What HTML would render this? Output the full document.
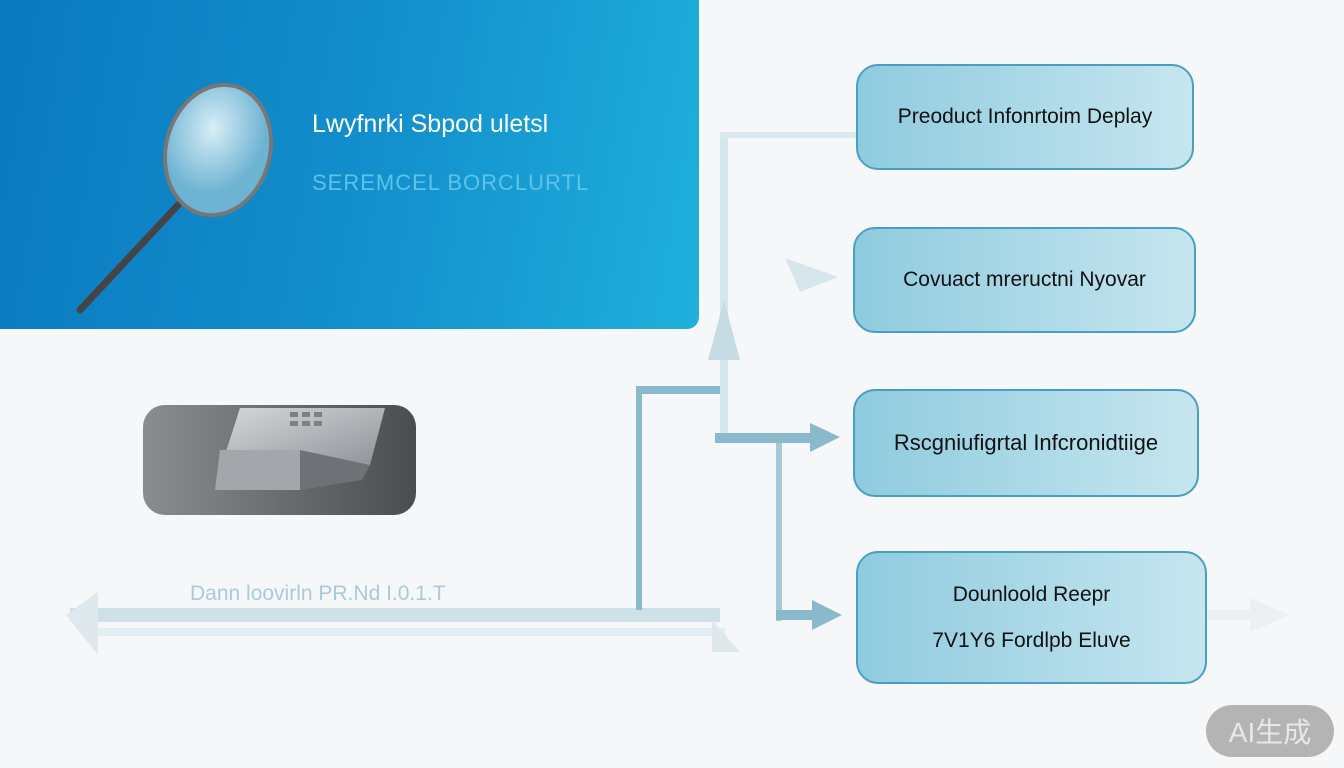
<!DOCTYPE html>
<html><head><meta charset="utf-8"><style>
html,body{margin:0;padding:0}
body{width:1344px;height:768px;position:relative;overflow:hidden;background:#f6f7f8;font-family:"Liberation Sans","Noto Sans CJK SC",sans-serif}
.hero{position:absolute;left:0;top:0;width:699px;height:329px;border-radius:0 0 12px 0;background:linear-gradient(100deg,#0a79bf 0%,#1390cd 55%,#1fb0dc 100%)}
.box{position:absolute;border:2px solid #4a9fbf;border-radius:22px;background:linear-gradient(90deg,#8fcbdf,#c6e6ef);color:#111;font-size:21px;display:flex;align-items:center;justify-content:center;text-align:center;line-height:46px}
</style></head><body>
<div class="hero"></div>
<svg style="position:absolute;left:0;top:0" width="1344" height="768">
<defs><radialGradient id="lens" cx="40%" cy="35%"><stop offset="0" stop-color="#d8eef6"/><stop offset="1" stop-color="#6fb3d3"/></radialGradient>
<linearGradient id="dev" x1="0" x2="1"><stop offset="0" stop-color="#8a8d90"/><stop offset="1" stop-color="#4a4d50"/></linearGradient>
<linearGradient id="met" x1="0" x2="1" y1="0" y2="1"><stop offset="0" stop-color="#d5d8db"/><stop offset="1" stop-color="#8c9095"/></linearGradient></defs>
<line x1="80" y1="310" x2="178" y2="205" stroke="#444" stroke-width="7" stroke-linecap="round"/>
<ellipse cx="218" cy="150" rx="52" ry="66" fill="url(#lens)" stroke="#777" stroke-width="4" transform="rotate(15 218 150)"/>
<rect x="143" y="405" width="273" height="110" rx="22" fill="url(#dev)"/>
<polygon points="240,408 385,408 370,465 220,470" fill="url(#met)"/>
<polygon points="220,450 300,450 300,490 215,490" fill="#a3a7ab"/>
<polygon points="300,450 370,465 362,480 300,490" fill="#6e7276"/>
<g fill="#7d8186"><rect x="290" y="412" width="8" height="5"/><rect x="302" y="412" width="8" height="5"/><rect x="314" y="412" width="8" height="5"/><rect x="290" y="421" width="8" height="5"/><rect x="302" y="421" width="8" height="5"/><rect x="314" y="421" width="8" height="5"/></g>
<rect x="70" y="608" width="650" height="14" fill="#cfe1e8"/>
<rect x="85" y="628" width="640" height="8" fill="#e3edf1"/>
<polygon points="66,615 98,592 98,655" fill="#dfe9ed"/>
<polygon points="740,652 712,620 712,652" fill="#dfe9ed"/>
<rect x="636" y="386" width="6" height="224" fill="#8bb9cc"/>
<rect x="636" y="386" width="92" height="8" fill="#8bb9cc"/>
<rect x="720" y="132" width="8" height="305" fill="#d5e6ec"/>
<rect x="720" y="132" width="138" height="6" fill="#dbe8ed"/>
<polygon points="708,360 724,300 740,360" fill="#c5dce5"/>
<polygon points="785,258 838,277 800,292" fill="#d5e6ec"/>
<rect x="715" y="433" width="98" height="10" fill="#8bb9cc"/>
<polygon points="810,423 840,437 810,452" fill="#8bb9cc"/>
<rect x="776" y="443" width="6" height="178" fill="#a8c8d5"/>
<rect x="776" y="610" width="40" height="10" fill="#8bb9cc"/>
<polygon points="812,600 842,615 812,630" fill="#8bb9cc"/>
<rect x="1205" y="610" width="50" height="10" fill="#ebf1f3"/>
<polygon points="1250,598 1290,615 1250,632" fill="#ebf1f3"/>
</svg>
<div style="position:absolute;left:312px;top:110px;color:#fff;font-size:25px">Lwyfnrki Sbpod uletsl</div>
<div style="position:absolute;left:312px;top:170px;color:#5ec3e8;font-size:22px;letter-spacing:1px">SEREMCEL BORCLURTL</div>
<div style="position:absolute;left:190px;top:582px;color:#a9cbd8;font-size:21px">Dann loovirln PR.Nd I.0.1.T</div>
<div class="box" style="left:856px;top:64px;width:334px;height:102px">Preoduct Infonrtoim Deplay</div>
<div class="box" style="left:853px;top:227px;width:339px;height:102px">Covuact mreructni Nyovar</div>
<div class="box" style="left:853px;top:389px;width:342px;height:104px;font-size:22px">Rscgniufigrtal Infcronidtiige</div>
<div class="box" style="left:856px;top:551px;width:347px;height:129px">Dounloold Reepr<br>7V1Y6 Fordlpb Eluve</div>
<div style="position:absolute;left:1206px;top:705px;width:128px;height:52px;border-radius:26px;background:#b4b4b4;color:#e8e8e8;font-size:28px;display:flex;align-items:center;justify-content:center">AI生成</div>
</body></html>
